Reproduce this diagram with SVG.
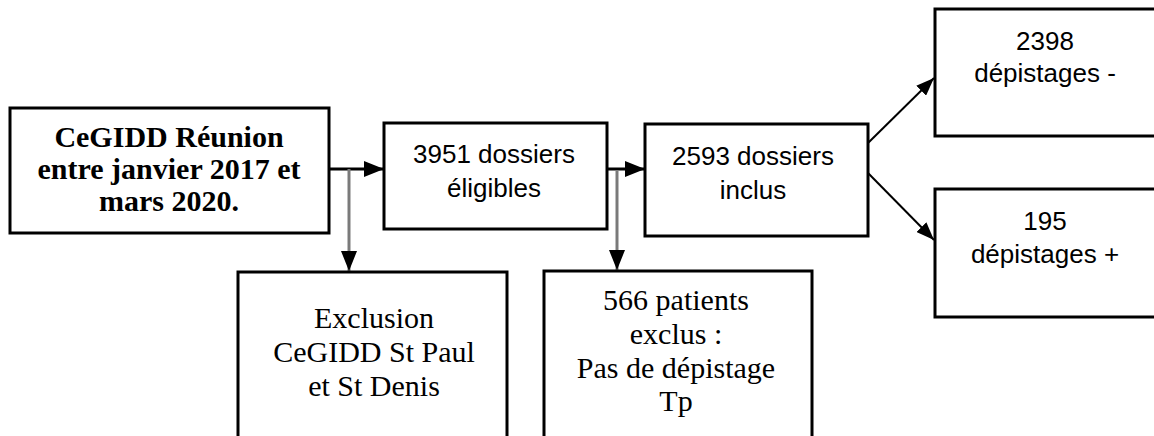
<svg xmlns="http://www.w3.org/2000/svg" width="1154" height="436" viewBox="0 0 1154 436">
  <style>
    .box { fill: #ffffff; stroke: #000000; stroke-width: 3; }
    .serif { font-family: "Liberation Serif", "Times New Roman", serif; font-size: 30px; fill: #000000; text-anchor: middle; }
    .bold { font-weight: bold; }
    .sans { font-family: "Liberation Sans", Arial, sans-serif; font-size: 26px; fill: #000000; text-anchor: middle; }
    .hline { stroke: #000000; stroke-width: 3; fill: none; }
    .vline { stroke: #7a7a7a; stroke-width: 3; fill: none; }
    .dline { stroke: #000000; stroke-width: 2; fill: none; }
  </style>
  <defs>
    <marker id="arrowH" markerUnits="userSpaceOnUse" markerWidth="20" markerHeight="16" refX="20" refY="8" orient="auto">
      <path d="M0,0 L20,8 L0,16 z" fill="#000000"/>
    </marker>
    <marker id="arrowD" markerUnits="userSpaceOnUse" markerWidth="18" markerHeight="14" refX="18" refY="7" orient="auto">
      <path d="M0,0 L18,7 L0,14 z" fill="#000000"/>
    </marker>
  </defs>
  <rect width="1154" height="436" fill="#ffffff"/>

  <g id="connectors">
    <line class="hline" x1="329" y1="169" x2="384" y2="169" marker-end="url(#arrowH)"/>
    <line class="vline" x1="349" y1="169" x2="349" y2="271" marker-end="url(#arrowH)"/>
    <line class="hline" x1="607" y1="169" x2="645" y2="169" marker-end="url(#arrowH)"/>
    <line class="vline" x1="617" y1="171" x2="617" y2="270" marker-end="url(#arrowH)"/>
    <line class="dline" x1="868" y1="143" x2="934" y2="78" marker-end="url(#arrowD)"/>
    <line class="dline" x1="868" y1="173" x2="934" y2="240" marker-end="url(#arrowD)"/>
  </g>

  <g id="node-cegidd">
    <rect class="box" x="10" y="108" width="319" height="125"/>
    <text class="serif bold" x="169" y="147">CeGIDD Réunion</text>
    <text class="serif bold" x="169" y="179">entre janvier 2017 et</text>
    <text class="serif bold" x="169" y="211">mars 2020.</text>
  </g>

  <g id="node-eligibles">
    <rect class="box" x="384" y="123" width="223" height="106"/>
    <text class="sans" x="494" y="163">3951 dossiers</text>
    <text class="sans" x="494" y="197">éligibles</text>
  </g>

  <g id="node-inclus">
    <rect class="box" x="645" y="124" width="223" height="112"/>
    <text class="sans" x="753" y="165">2593 dossiers</text>
    <text class="sans" x="753" y="199">inclus</text>
  </g>

  <g id="node-negatifs">
    <rect class="box" x="935" y="9" width="230" height="127"/>
    <text class="sans" x="1045" y="50">2398</text>
    <text class="sans" x="1045" y="82">dépistages -</text>
  </g>

  <g id="node-positifs">
    <rect class="box" x="935" y="189" width="230" height="128"/>
    <text class="sans" x="1045" y="230">195</text>
    <text class="sans" x="1045" y="263">dépistages +</text>
  </g>

  <g id="node-exclusion">
    <rect class="box" x="238" y="272" width="269" height="190"/>
    <text class="serif" x="374" y="328">Exclusion</text>
    <text class="serif" x="374" y="362">CeGIDD St Paul</text>
    <text class="serif" x="374" y="396">et St Denis</text>
  </g>

  <g id="node-exclus">
    <rect class="box" x="544" y="271" width="268" height="190"/>
    <text class="serif" x="676" y="310">566 patients</text>
    <text class="serif" x="676" y="344">exclus :</text>
    <text class="serif" x="676" y="378">Pas de dépistage</text>
    <text class="serif" x="676" y="411">Tp</text>
  </g>
</svg>
